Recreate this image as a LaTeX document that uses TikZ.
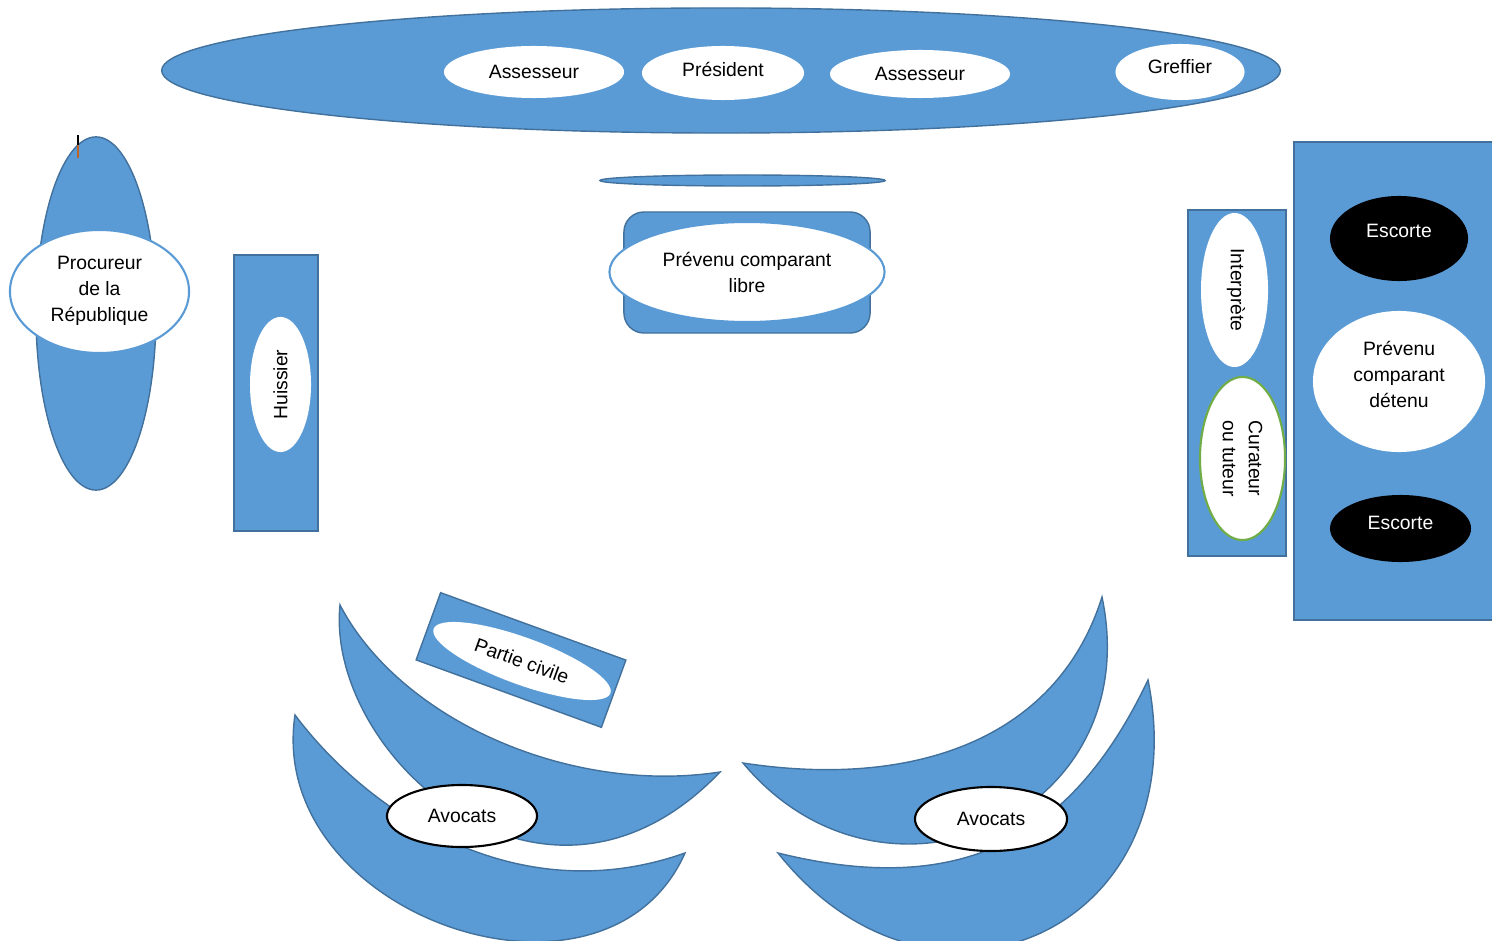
\documentclass[tikz,border=0pt]{standalone}
\usepackage{fontspec}
\setmainfont{Liberation Sans}
\usepackage{tikz}
\usetikzlibrary{shapes.geometric}
\definecolor{benchblue}{RGB}{91,155,213}
\definecolor{benchedge}{RGB}{65,113,156}
\definecolor{ringgreen}{RGB}{112,173,71}
\definecolor{tickbrown}{RGB}{190,100,40}

\begin{document}
\begin{tikzpicture}[x=0.01cm, y=-0.01cm,
    seat/.style={fill=benchblue, draw=benchedge, line width=0.4pt, inner sep=0pt},
    chair/.style={ellipse, fill=white, inner sep=0pt, align=center,
        font=\fontsize{5.5}{7.4}\selectfont},
    guard/.style={chair, fill=black, text=white}]
    \useasboundingbox (0,0) rectangle (1492,940);

    % Tribunal bench
    \node[seat, ellipse, minimum width=11.18cm, minimum height=1.25cm] (banc) at (721,70.5) {};
    \node[chair, minimum width=1.80cm, minimum height=0.52cm] (assesseurG) at (534,72) {Assesseur};
    \node[chair, minimum width=1.62cm, minimum height=0.54cm, text depth=2pt] (president) at (723,73) {Président};
    \node[chair, minimum width=1.80cm, minimum height=0.48cm] (assesseurD) at (920,74) {Assesseur};
    \node[chair, minimum width=1.29cm, minimum height=0.56cm, text depth=3pt] (greffier) at (1180,72) {Greffier};

    % Bar and free defendant
    \node[seat, ellipse, minimum width=2.85cm, minimum height=0.11cm] (barre) at (742.5,180.5) {};
    \node[seat, rectangle, rounded corners=0.2cm, minimum width=2.46cm, minimum height=1.21cm] (boxlibre) at (747,272.5) {};
    \node[chair, draw=benchblue, line width=0.6pt, minimum width=2.75cm, minimum height=1.0cm] (libre) at (747,272) {Prévenu comparant\\libre};

    % Prosecutor
    \node[seat, ellipse, minimum width=1.2cm, minimum height=3.53cm] (parquet) at (96,313.5) {};
    \draw[line width=0.8pt] (78,135) -- (78,145);
    \draw[tickbrown, line width=0.8pt] (78,145) -- (78,158);
    \node[chair, draw=benchblue, line width=0.6pt, minimum width=1.79cm, minimum height=1.23cm, text depth=1.5pt] (procureur) at (99.5,291.5) {Procureur\\de la\\République};

    % Usher
    \node[seat, rectangle, minimum width=0.84cm, minimum height=2.76cm] (tableH) at (276,393) {};
    \node[chair, rotate=90, minimum width=1.35cm, minimum height=0.61cm] (huissier) at (280.5,384.5) {Huissier};

    % Interpreter and guardian
    \node[seat, rectangle, minimum width=0.98cm, minimum height=3.46cm] (tableI) at (1237,383) {};
    \node[chair, rotate=-90, minimum width=1.54cm, minimum height=0.67cm, text depth=2pt] (interprete) at (1234.5,290) {Interprète};
    \node[chair, rotate=-90, draw=ringgreen, line width=0.6pt, minimum width=1.63cm, minimum height=0.85cm] (curateur) at (1242.5,458.5) {Curateur\\ou tuteur};

    % Detained defendant box
    \node[seat, rectangle, minimum width=2.06cm, minimum height=4.78cm] (box) at (1397,381) {};
    \node[guard, minimum width=1.38cm, minimum height=0.85cm, text depth=4.5pt] (escorteH) at (1399,238.5) {Escorte};
    \node[chair, minimum width=1.72cm, minimum height=1.41cm, text depth=4pt] (detenu) at (1399,381.5) {Prévenu\\comparant\\détenu};
    \node[guard, minimum width=1.41cm, minimum height=0.67cm, text depth=3pt] (escorteB) at (1400.5,528.5) {Escorte};

    % Civil party
    \node[seat, rectangle, rotate=-20, minimum width=1.97cm, minimum height=0.715cm] (tableP) at (521,660) {};
    \node[chair, rotate=-20, minimum width=1.88cm, minimum height=0.47cm] (partie) at (522,661) {Partie civile};

    % Lawyers, left
    \draw[seat] (340,605) .. controls (325,755) and (545,955) .. (720,772)
        .. controls (570,795) and (400,720) .. cycle;
    \draw[seat] (295,715) .. controls (265,915) and (605,1033) .. (685,853)
        .. controls (515,913) and (367,811) .. cycle;
    \node[chair, draw=black, line width=0.6pt, minimum width=1.50cm, minimum height=0.62cm] (avocatsG) at (462,816) {Avocats};

    % Lawyers, right
    \draw[seat] (1102,597) .. controls (1148,817) and (884,932) .. (743,763)
        .. controls (913,789) and (1057,740) .. cycle;
    \draw[seat] (1148,680) .. controls (1198,930) and (933,1048) .. (778,853)
        .. controls (968,900) and (1075,833) .. cycle;
    \node[chair, draw=black, line width=0.6pt, minimum width=1.52cm, minimum height=0.64cm] (avocatsD) at (991,819) {Avocats};
\end{tikzpicture}
\end{document}
